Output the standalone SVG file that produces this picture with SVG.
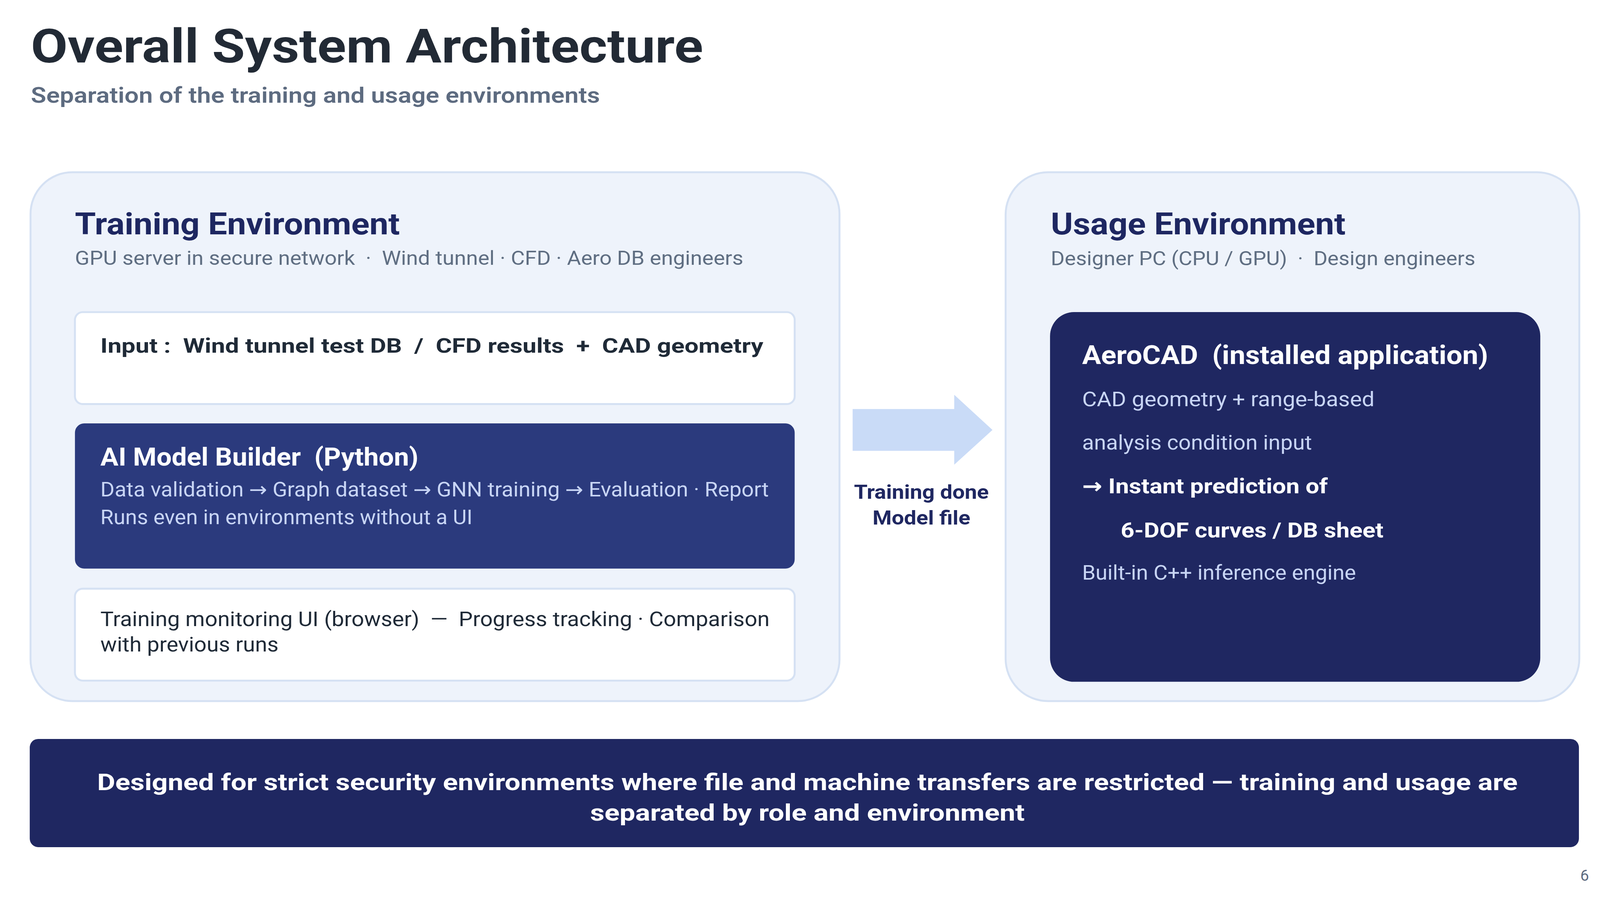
<svg xmlns="http://www.w3.org/2000/svg" width="4142" height="2335" viewBox="0 0 4142 2335">
<style>
text{font-family:Roboto,"DejaVu Sans",sans-serif;}
.b{font-weight:700;}
.sb{font-weight:600;}
.panel{fill:#eef3fb;stroke:#d5e1f3;stroke-width:5;}
.wbox{fill:#ffffff;stroke:#d5e1f3;stroke-width:5;}
.ptitle{fill:#1e2761;font-size:79px;font-weight:700;}
.psub{fill:#5f6e82;font-size:51px;}
.dark{fill:#1f2a37;}
.light{fill:#c8d5f5;font-size:52px;}
.white{fill:#ffffff;}
.navy{fill:#1f2761;}
</style>
<rect width="4142" height="2335" fill="#ffffff"/>
<g transform="scale(0.989)">
<g id="header">
<text x="80" y="162" class="b" font-size="122" fill="#222a35" textLength="1740" lengthAdjust="spacingAndGlyphs">Overall System Architecture</text>
<text x="80" y="266" class="sb" font-size="56" fill="#5d6b80" textLength="1473" lengthAdjust="spacingAndGlyphs">Separation of the training and usage environments</text>
</g>
<g id="training-env">
<rect x="79" y="446" width="2094" height="1369" rx="108" class="panel"/>
<text x="194" y="607" class="ptitle" textLength="841" lengthAdjust="spacingAndGlyphs">Training Environment</text>
<text x="194" y="686" class="psub" textLength="1730" lengthAdjust="spacingAndGlyphs" xml:space="preserve">GPU server in secure network  ·  Wind tunnel · CFD · Aero DB engineers</text>
</g>
<g id="input-box">
<rect x="194" y="808" width="1863" height="238" rx="20" class="wbox"/>
<text x="260" y="913" class="b dark" font-size="53" textLength="1716" lengthAdjust="spacingAndGlyphs" xml:space="preserve">Input :  Wind tunnel test DB  /  CFD results  +  CAD geometry</text>
</g>
<g id="ai-model-builder">
<rect x="194" y="1096" width="1863" height="376" rx="24" fill="#2b3a7d"/>
<text x="260" y="1205" class="b white" font-size="66" textLength="823" lengthAdjust="spacingAndGlyphs" xml:space="preserve">AI Model Builder  (Python)</text>
<text class="light"><tspan x="260" y="1285" textLength="1730" lengthAdjust="spacingAndGlyphs">Data validation → Graph dataset → GNN training → Evaluation · Report</tspan><tspan x="260" y="1357" textLength="963" lengthAdjust="spacingAndGlyphs">Runs even in environments without a UI</tspan></text>
</g>
<g id="monitoring-ui">
<rect x="194" y="1524" width="1863" height="238" rx="20" class="wbox"/>
<text class="dark" font-size="52" xml:space="preserve"><tspan x="260" y="1621" textLength="1732" lengthAdjust="spacingAndGlyphs">Training monitoring UI (browser)  —  Progress tracking · Comparison</tspan><tspan x="260" y="1687" textLength="461" lengthAdjust="spacingAndGlyphs">with previous runs</tspan></text>
</g>
<g id="connectors">
<polygon points="2207,1059 2470,1059 2470,1022 2569,1113 2470,1203 2470,1167 2207,1167" fill="#c9dbf7"/>
<text class="b navy" font-size="51" text-anchor="middle"><tspan x="2385" y="1291" textLength="349" lengthAdjust="spacingAndGlyphs">Training done</tspan><tspan x="2385" y="1358" textLength="253" lengthAdjust="spacingAndGlyphs">Model file</tspan></text>
</g>
<g id="usage-env">
<rect x="2603" y="446" width="1485" height="1369" rx="110" class="panel"/>
<text x="2720" y="607" class="ptitle" textLength="763" lengthAdjust="spacingAndGlyphs">Usage Environment</text>
<text x="2720" y="687" class="psub" textLength="1099" lengthAdjust="spacingAndGlyphs" xml:space="preserve">Designer PC (CPU / GPU)  ·  Design engineers</text>
</g>
<g id="aerocad">
<rect x="2718" y="808" width="1269" height="957" rx="62" class="navy"/>
<text x="2801" y="942" class="b white" font-size="68" textLength="1051" lengthAdjust="spacingAndGlyphs" xml:space="preserve">AeroCAD  (installed application)</text>
<text x="2801" y="1052" class="light" font-size="55" textLength="757" lengthAdjust="spacingAndGlyphs">CAD geometry + range-based</text>
<text x="2801" y="1164" class="light" font-size="55" textLength="595" lengthAdjust="spacingAndGlyphs">analysis condition input</text>
<text x="2801" y="1277" class="b white" font-size="55" textLength="636" lengthAdjust="spacingAndGlyphs">→ Instant prediction of</text>
<text x="2901" y="1391" class="b white" font-size="55" textLength="680" lengthAdjust="spacingAndGlyphs">6-DOF curves / DB sheet</text>
<text x="2801" y="1501" class="light" font-size="55" textLength="709" lengthAdjust="spacingAndGlyphs">Built-in C++ inference engine</text>
</g>
<g id="banner">
<rect x="77" y="1913" width="4010" height="280" rx="22" class="navy"/>
<text class="b white" font-size="60" text-anchor="middle"><tspan x="2090" y="2046" textLength="3677" lengthAdjust="spacingAndGlyphs">Designed for strict security environments where file and machine transfers are restricted — training and usage are</tspan><tspan x="2090" y="2124" textLength="1125" lengthAdjust="spacingAndGlyphs">separated by role and environment</tspan></text>
</g>
<g id="page-number">
<text x="4113" y="2280" font-size="40" fill="#5d6b80" text-anchor="end">6</text>
</g>
</g>
</svg>
